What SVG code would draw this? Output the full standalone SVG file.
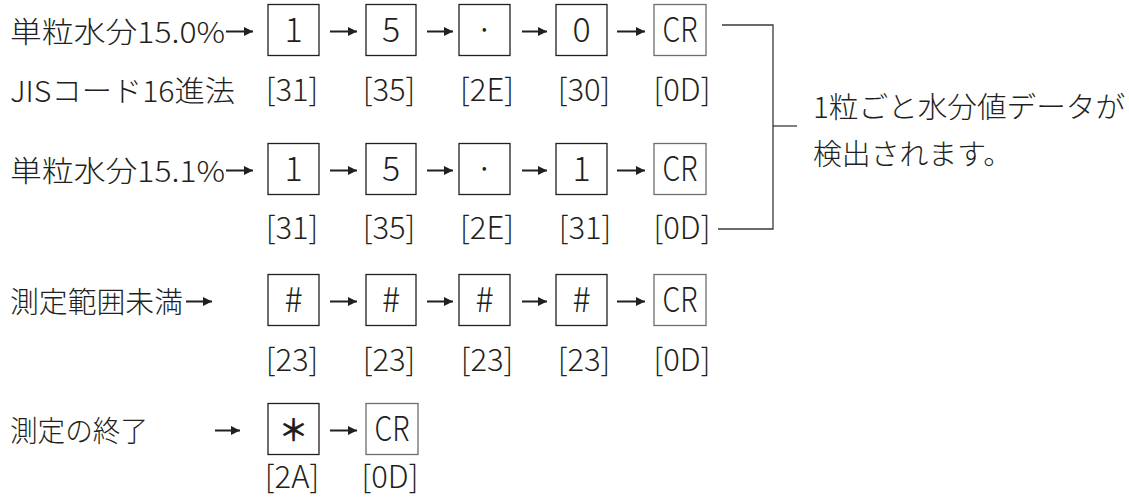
<svg xmlns="http://www.w3.org/2000/svg" width="1129" height="497" viewBox="0 0 1129 497">
<defs>
<style>
text{font-family:"Noto Sans CJK JP","Noto Sans",sans-serif;fill:#231f20;font-weight:300}
.lbl{font-size:29px}
.bx{font-size:34px;text-anchor:middle}
.hx{font-size:31px;text-anchor:middle}
.ast{font-size:30px;font-weight:700}
.box{fill:#fff;stroke:#231f20;stroke-width:1.3}
.cr{fill:#fff;stroke:#6d6d6d;stroke-width:1.3}
.arr{stroke:#231f20;stroke-width:2;fill:none;marker-end:url(#ah)}
.brk{stroke:#3a3a3a;stroke-width:1.3;fill:none}
</style>
<marker id="ah" markerUnits="userSpaceOnUse" markerWidth="10" markerHeight="10" refX="9" refY="5" orient="auto">
<path d="M0,0.5 L9,5 L0,9.5 Z" fill="#231f20"/>
</marker>
</defs>
<rect width="1129" height="497" fill="#fff"/>

<g id="row1">
<text class="lbl" x="10" y="43" textLength="215" lengthAdjust="spacingAndGlyphs">単粒水分15.0%</text>
<text class="lbl" x="10" y="102" textLength="225" lengthAdjust="spacingAndGlyphs">JISコード16進法</text>
<rect class="box" x="268" y="4.5" width="51" height="51"/><text class="bx" x="293.5" y="42">1</text>
<rect class="box" x="366" y="4.5" width="50" height="51"/><text class="bx" x="391" y="42">5</text>
<rect class="box" x="459" y="4.5" width="51" height="51"/><text class="bx" x="484.5" y="42">·</text>
<rect class="box" x="556" y="4.5" width="51" height="51"/><text class="bx" x="581.5" y="42">0</text>
<rect class="cr" x="654" y="4.5" width="52" height="51"/><text class="bx" x="680" y="42" textLength="35" lengthAdjust="spacingAndGlyphs">CR</text>
<text class="hx" x="292" y="101">[31]</text>
<text class="hx" x="389" y="101">[35]</text>
<text class="hx" x="487" y="101">[2E]</text>
<text class="hx" x="584" y="101">[30]</text>
<text class="hx" x="682" y="101">[0D]</text>
</g>

<g id="row2">
<text class="lbl" x="10" y="182" textLength="215" lengthAdjust="spacingAndGlyphs">単粒水分15.1%</text>
<rect class="box" x="268" y="143.5" width="51" height="51"/><text class="bx" x="293.5" y="181">1</text>
<rect class="box" x="366" y="143.5" width="50" height="51"/><text class="bx" x="391" y="181">5</text>
<rect class="box" x="459" y="143.5" width="51" height="51"/><text class="bx" x="484.5" y="181">·</text>
<rect class="box" x="556" y="143.5" width="51" height="51"/><text class="bx" x="581.5" y="181">1</text>
<rect class="cr" x="654" y="143.5" width="52" height="51"/><text class="bx" x="680" y="181" textLength="35" lengthAdjust="spacingAndGlyphs">CR</text>
<text class="hx" x="292" y="239">[31]</text>
<text class="hx" x="389" y="239">[35]</text>
<text class="hx" x="487" y="239">[2E]</text>
<text class="hx" x="585" y="239">[31]</text>
<text class="hx" x="682" y="239">[0D]</text>
</g>

<g id="row3">
<text class="lbl" x="10" y="313" textLength="173" lengthAdjust="spacingAndGlyphs">測定範囲未満</text>
<rect class="box" x="268" y="274.5" width="51" height="51"/><text class="bx" x="293.5" y="312">#</text>
<rect class="box" x="366" y="274.5" width="50" height="51"/><text class="bx" x="391" y="312">#</text>
<rect class="box" x="459" y="274.5" width="51" height="51"/><text class="bx" x="484.5" y="312">#</text>
<rect class="box" x="556" y="274.5" width="51" height="51"/><text class="bx" x="581.5" y="312">#</text>
<rect class="cr" x="654" y="274.5" width="52" height="51"/><text class="bx" x="680" y="312" textLength="35" lengthAdjust="spacingAndGlyphs">CR</text>
<text class="hx" x="292" y="371">[23]</text>
<text class="hx" x="389" y="371">[23]</text>
<text class="hx" x="487" y="371">[23]</text>
<text class="hx" x="584" y="371">[23]</text>
<text class="hx" x="682" y="371">[0D]</text>
</g>

<g id="row4">
<text class="lbl" x="10" y="442" textLength="138" lengthAdjust="spacingAndGlyphs">測定の終了</text>
<rect class="box" x="268" y="403.5" width="51" height="51"/><text class="bx ast" x="293.5" y="441">＊</text>
<rect class="cr" x="366" y="403.5" width="52" height="51"/><text class="bx" x="392" y="441" textLength="35" lengthAdjust="spacingAndGlyphs">CR</text>
<text class="hx" x="292" y="488">[2A]</text>
<text class="hx" x="390" y="488">[0D]</text>
</g>

<g id="note">
<text class="lbl" x="813" y="118" textLength="312" lengthAdjust="spacingAndGlyphs">1粒ごと水分値データが</text>
<text class="lbl" x="813" y="165" textLength="199" lengthAdjust="spacingAndGlyphs">検出されます。</text>
</g>

<g id="connectors">
<path class="arr" d="M226,31.5H253"/>
<path class="arr" d="M330,31.5H357"/>
<path class="arr" d="M427,31.5H453"/>
<path class="arr" d="M522,31.5H547"/>
<path class="arr" d="M617,31.5H645"/>

<path class="arr" d="M226,170.5H253"/>
<path class="arr" d="M330,170.5H357"/>
<path class="arr" d="M427,170.5H453"/>
<path class="arr" d="M522,170.5H547"/>
<path class="arr" d="M617,170.5H645"/>

<path class="arr" d="M186,301.5H212"/>
<path class="arr" d="M330,301.5H357"/>
<path class="arr" d="M427,301.5H453"/>
<path class="arr" d="M522,301.5H547"/>
<path class="arr" d="M617,301.5H645"/>

<path class="arr" d="M215,430.5H240"/>
<path class="arr" d="M330,430.5H357"/>

<path class="brk" d="M722,25H773V229H718"/>
<path class="brk" d="M773,126H797"/>
</g>
</svg>
